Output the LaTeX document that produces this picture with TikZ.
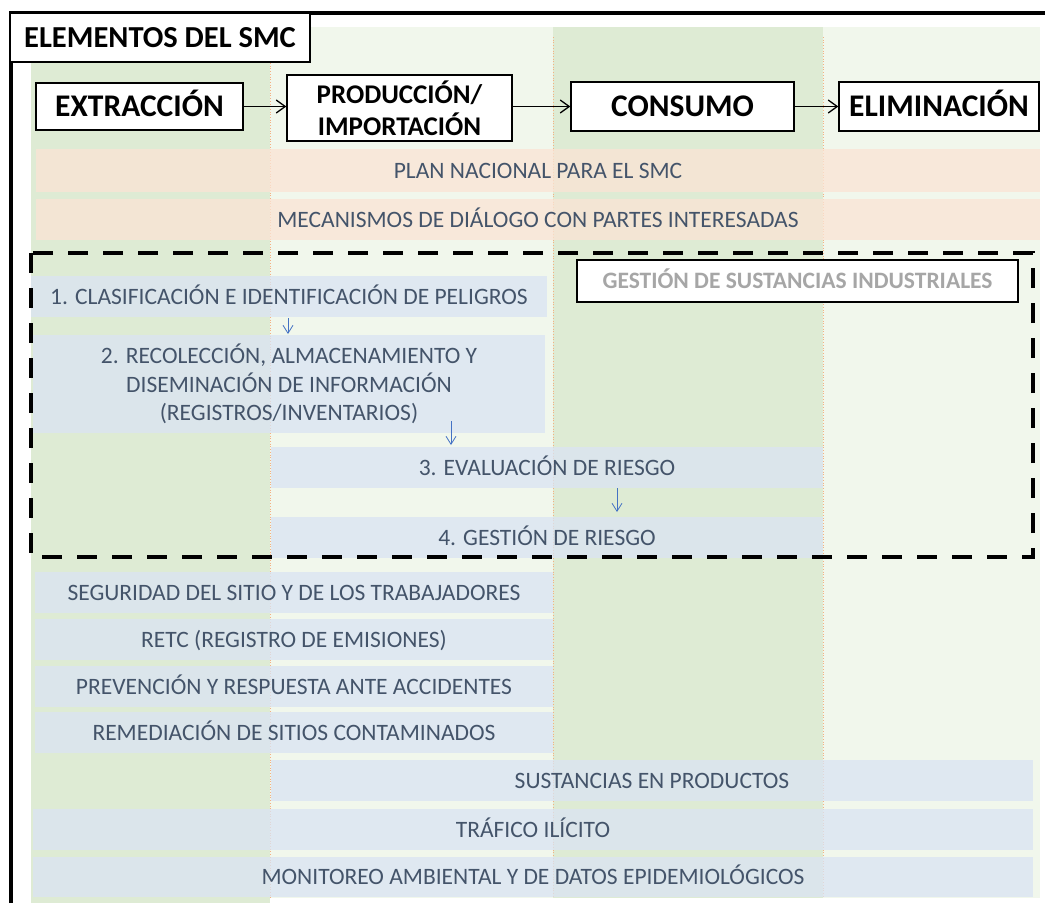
\documentclass[tikz,border=0pt]{standalone}
\usepackage{fontspec}
\setmainfont{Carlito}
\usetikzlibrary{arrows.meta}

\definecolor{colDark}{HTML}{DEEBD4}
\definecolor{colLight}{HTML}{F1F7EC}
\definecolor{orangeBand}{HTML}{FBE4D5}
\definecolor{blueBand}{HTML}{DAE3F3}
\definecolor{bandText}{HTML}{44546A}
\definecolor{sepLine}{HTML}{F4B183}
\definecolor{flowBlue}{HTML}{4472C4}
\definecolor{greyTitle}{HTML}{A6A6A6}

% band node from its corner coordinates: name, x1, y1, x2, y2, style, text
\newcommand{\bandnode}[7]{%
  \pgfmathsetmacro{\bandcx}{(#2+#4)/2}%
  \pgfmathsetmacro{\bandcy}{(#3+#5)/2}%
  \pgfmathsetmacro{\bandw}{#4-#2}%
  \pgfmathsetmacro{\bandh}{#5-#3}%
  \node[#6, minimum width=\bandw pt, minimum height=\bandh pt] (#1) at (\bandcx,\bandcy) {#7};}

\begin{document}
\begin{tikzpicture}[x=1pt,y=-1pt,
  stagebox2/.style={draw=black, line width=1.4pt, fill=white, inner sep=0pt, align=center,
    font=\bfseries\fontsize{27}{32}\selectfont},
  stagebox/.style={stagebox2, font=\bfseries\fontsize{31.5}{34}\selectfont,
    text height=20pt, text depth=0pt},
  titlebox/.style={draw=black, line width=1.4pt, fill=white, inner sep=0pt,
    font=\bfseries\fontsize{30.5}{32}\selectfont, text height=19.5pt, text depth=0pt},
  subtitlebox/.style={draw=black, line width=1.4pt, fill=white, inner sep=0pt,
    text=greyTitle, font=\bfseries\fontsize{23.5}{28}\selectfont,
    text height=15pt, text depth=0pt},
  multiband/.style={fill=orangeBand, fill opacity=0.75, text opacity=1, inner sep=0pt,
    text=bandText, align=center, font=\fontsize{23.5}{28.3}\selectfont},
  orangeband/.style={multiband, text height=15pt, text depth=0pt},
  blueband/.style={orangeband, fill=blueBand},
  bluemulti/.style={multiband, fill=blueBand},
  flowarrow/.style={line width=1.3pt, -{Straight Barb[length=9pt,width=13pt]}},
  steparrow/.style={draw=flowBlue, line width=0.8pt, -{Straight Barb[length=8pt,width=10pt]}},
  colsep/.style={draw=sepLine, line width=0.7pt, dotted},
]
\useasboundingbox (0,0) rectangle (1045,903);
\fill[white] (0,0) rectangle (1045,903);

% life-cycle columns
\fill[colDark]  (31,27)  rectangle (270,903);
\fill[colLight] (270,27) rectangle (553,898);
\fill[colDark]  (553,27) rectangle (823,898);
\fill[colLight] (823,27) rectangle (1040,898);
\draw[colsep] (270,63) -- (270,898);
\draw[colsep] (553,37) -- (553,898);
\draw[colsep] (823,37) -- (823,898);

% outer frame
\draw[line width=4.5pt] (10.8,903) -- (10.8,12.8) -- (1045,12.8);

% title
\bandnode{title}{10}{13}{310}{62}{titlebox}{ELEMENTOS DEL SMC}

% life-cycle stages
\bandnode{extr}{36}{83}{243}{130}{stagebox}{EXTRACCIÓN}
\bandnode{prod}{287}{75}{512}{141}{stagebox2}{PRODUCCIÓN/\\IMPORTACIÓN}
\bandnode{cons}{571}{82}{794}{131}{stagebox}{CONSUMO}
\bandnode{elim}{839}{82}{1039}{131}{stagebox}{ELIMINACIÓN}
\draw[flowarrow] (extr.east) -- (prod.west |- extr.east);
\draw[flowarrow] (prod.east |- cons.west) -- (cons.west);
\draw[flowarrow] (cons.east) -- (elim.west);

% cross-cutting bands
\bandnode{plan}{36}{149}{1040}{192}{orangeband}{PLAN NACIONAL PARA EL SMC}
\bandnode{dialog}{36}{199}{1040}{240}{orangeband}{MECANISMOS DE DIÁLOGO CON PARTES INTERESADAS}

% industrial substances management
\bandnode{gs1}{31}{276}{547}{317}{blueband}{1. CLASIFICACIÓN E IDENTIFICACIÓN DE PELIGROS}
\bandnode{gs2}{33}{335}{545}{433}{bluemulti}{2. RECOLECCIÓN, ALMACENAMIENTO Y\\DISEMINACIÓN DE INFORMACIÓN\\(REGISTROS/INVENTARIOS)}
\bandnode{gs3}{271}{447}{823}{488}{blueband}{3. EVALUACIÓN DE RIESGO}
\bandnode{gs4}{271}{517}{823}{558}{blueband}{4. GESTIÓN DE RIESGO}

\coordinate (a1s) at (288,318);
\coordinate (a1e) at (288,334);
\coordinate (a2s) at (451,421);
\coordinate (a2e) at (451,445);
\coordinate (a3s) at (617,488);
\coordinate (a3e) at (617,512);
\draw[steparrow] (a1s) -- (a1e);
\draw[steparrow] (a2s) -- (a2e);
\draw[steparrow] (a3s) -- (a3e);

\draw[line width=4.7pt, dash pattern=on 20pt off 15pt] (31,253) rectangle (1033,557);
\bandnode{gsi}{577}{260}{1018}{302}{subtitlebox}{GESTIÓN DE SUSTANCIAS INDUSTRIALES}

% further elements
\bandnode{site}{35}{572}{553}{613}{blueband}{SEGURIDAD DEL SITIO Y DE LOS TRABAJADORES}
\bandnode{retc}{35}{619}{553}{660}{blueband}{RETC (REGISTRO DE EMISIONES)}
\bandnode{prev}{35}{666}{553}{707}{blueband}{PREVENCIÓN Y RESPUESTA ANTE ACCIDENTES}
\bandnode{remed}{35}{712}{553}{753}{blueband}{REMEDIACIÓN DE SITIOS CONTAMINADOS}
\bandnode{prodsub}{271}{760}{1033}{801}{blueband}{SUSTANCIAS EN PRODUCTOS}
\bandnode{traffic}{33}{809}{1033}{850}{blueband}{TRÁFICO ILÍCITO}
\bandnode{monitor}{33}{857}{1033}{897}{blueband}{MONITOREO AMBIENTAL Y DE DATOS EPIDEMIOLÓGICOS}
\end{tikzpicture}
\end{document}
